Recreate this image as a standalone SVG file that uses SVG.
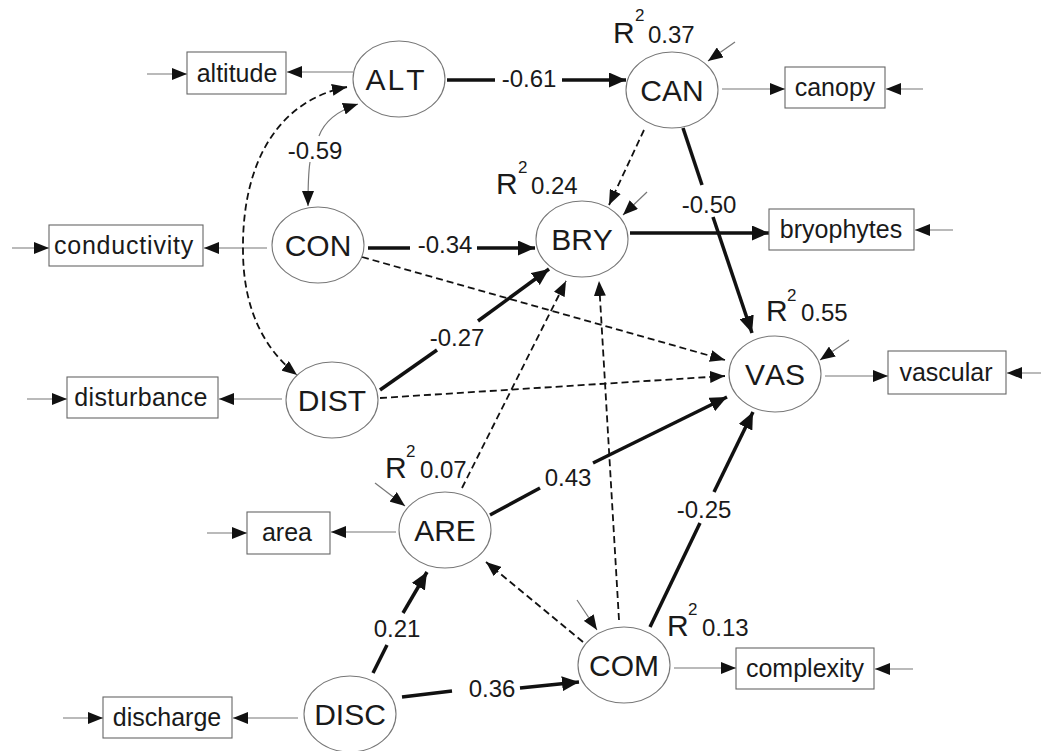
<svg xmlns="http://www.w3.org/2000/svg" width="1041" height="751" viewBox="0 0 1041 751">
<defs>
<style>
text{font-family:"Liberation Sans",Arial,sans-serif;fill:#1a1a1a;font-kerning:none}
.lat{fill:#fff;stroke:#777;stroke-width:1.1}
.obs{fill:#fff;stroke:#666;stroke-width:1.1}
.nl{font-size:30px;text-anchor:middle}
.bl{font-size:25px;text-anchor:middle}
.cl{font-size:24px;text-anchor:middle}
.rr{font-size:30px}
.sup{font-size:17px}
.rv{font-size:24px}
.thin{fill:none;stroke:#777;stroke-width:1.2;marker-end:url(#ah)}
.thick{fill:none;stroke:#111;stroke-width:3.5}
.thick.end{marker-end:url(#ahb)}
.dash{fill:none;stroke:#111;stroke-width:1.8;stroke-dasharray:7 4;marker-end:url(#ah)}
</style>
<marker id="ah" viewBox="0 0 15 12" refX="15" refY="6" markerWidth="15" markerHeight="12" markerUnits="userSpaceOnUse" orient="auto-start-reverse">
<path d="M0,0 L15,6 L0,12 z" fill="#111"/>
</marker>
<marker id="ahb" viewBox="0 0 17 15" refX="17" refY="7.5" markerWidth="17" markerHeight="15" markerUnits="userSpaceOnUse" orient="auto">
<path d="M0,0 L17,7.5 L0,15 z" fill="#111"/>
</marker>
</defs>
<rect width="1041" height="751" fill="#fff"/>

<g id="connectors">
<path class="thin" d="M147,74 H187"/>
<path class="thin" d="M353,72 H287"/>
<path class="thin" d="M12,248 H49"/>
<path class="thin" d="M267,248 H204"/>
<path class="thin" d="M27,399 H67"/>
<path class="thin" d="M282,399 H219"/>
<path class="thin" d="M207,533 H247"/>
<path class="thin" d="M396,532 H331"/>
<path class="thin" d="M63,718 H103"/>
<path class="thin" d="M298,718 H233"/>
<path class="thin" d="M722,89 H785"/>
<path class="thin" d="M923,89 H886"/>
<path class="thin" d="M953,230 H915"/>
<path class="thin" d="M825,376 H888"/>
<path class="thin" d="M1041,373 H1007"/>
<path class="thin" d="M674,668 H736"/>
<path class="thin" d="M913,669 H875"/>
<path class="thin" d="M735,42 L708,61"/>
<path class="thin" d="M647,192 L623,215"/>
<path class="thin" d="M849,340 L820,360"/>
<path class="thin" d="M375,483 L405,506"/>
<path class="thin" d="M577,600 L597,630"/>
<path class="thin" d="M319,136 C325,120 340,110 358,104"/>
<path class="thin" d="M310,162 C308,175 308,190 308,206"/>
<path class="thick" d="M447,80 H495"/><path class="thick end" d="M562,80 H626"/>
<path class="thick" d="M368,248 H410"/><path class="thick end" d="M477,248 H535"/>
<path class="thick" d="M380,390 L437,350"/><path class="thick end" d="M478,321 L549,269"/>
<path class="thick end" d="M630,233 H769"/>
<path class="thick" d="M683,128 L702,185"/><path class="thick end" d="M713,217 L752,333"/>
<path class="thick" d="M490,515 L540,488"/><path class="thick end" d="M593,463 L727,397"/>
<path class="thick" d="M650,627 L700,523"/><path class="thick end" d="M714,492 L753,412"/>
<path class="thick" d="M373,673 L387,645"/><path class="thick end" d="M403,613 L427,572"/>
<path class="thick" d="M402,697 L452,691"/><path class="thick end" d="M520,688 L579,682"/>
<path class="dash" style="marker-start:url(#ah)" d="M347,87 C280,100 242,160 243,250 C243,310 265,350 297,375"/>
<path class="dash" d="M362,257 L725,360"/>
<path class="dash" d="M380,398 L725,376"/>
<path class="dash" d="M644,130 L609,205"/>
<path class="dash" d="M462,488 L566,281"/>
<path class="dash" d="M619,620 L599,281"/>
<path class="dash" d="M583,642 L486,562"/>
<text class="cl" x="529" y="87">-0.61</text>
<text class="cl" x="315" y="159">-0.59</text>
<text class="cl" x="445" y="253">-0.34</text>
<text class="cl" x="457" y="346">-0.27</text>
<text class="cl" x="709" y="213">-0.50</text>
<text class="cl" x="568" y="486">0.43</text>
<text class="cl" x="704" y="518">-0.25</text>
<text class="cl" x="397" y="637">0.21</text>
<text class="cl" x="492" y="697">0.36</text>
</g>

<g id="ALT"><ellipse class="lat" cx="399" cy="79" rx="46" ry="38"/><text class="nl" x="396" y="90" letter-spacing="2">ALT</text></g>
<g id="CAN"><ellipse class="lat" cx="672" cy="90" rx="46" ry="38"/><text class="nl" x="672" y="101">CAN</text>
<text x="613" y="43"><tspan class="rr">R</tspan><tspan class="sup" x="635" y="21">2</tspan><tspan class="rv" x="648" y="43">0.37</tspan></text></g>
<g id="CON"><ellipse class="lat" cx="318" cy="245" rx="46" ry="38"/><text class="nl" x="318" y="256">CON</text></g>
<g id="BRY"><ellipse class="lat" cx="582" cy="239" rx="46" ry="38"/><text class="nl" x="582" y="250">BRY</text>
<text x="496" y="194"><tspan class="rr">R</tspan><tspan class="sup" x="518" y="173">2</tspan><tspan class="rv" x="531" y="194">0.24</tspan></text></g>
<g id="DIST"><ellipse class="lat" cx="332" cy="400" rx="46" ry="38"/><text class="nl" x="332" y="411">DIST</text></g>
<g id="VAS"><ellipse class="lat" cx="775" cy="374" rx="46" ry="38"/><text class="nl" x="775" y="385">VAS</text>
<text x="766" y="321"><tspan class="rr">R</tspan><tspan class="sup" x="787" y="301">2</tspan><tspan class="rv" x="801" y="321">0.55</tspan></text></g>
<g id="ARE"><ellipse class="lat" cx="445" cy="530" rx="46" ry="38"/><text class="nl" x="445" y="541">ARE</text>
<text x="385" y="478"><tspan class="rr">R</tspan><tspan class="sup" x="406" y="457">2</tspan><tspan class="rv" x="420" y="478">0.07</tspan></text></g>
<g id="COM"><ellipse class="lat" cx="624" cy="665" rx="46" ry="38"/><text class="nl" x="624" y="676">COM</text>
<text x="667" y="636"><tspan class="rr">R</tspan><tspan class="sup" x="688" y="615">2</tspan><tspan class="rv" x="702" y="636">0.13</tspan></text></g>
<g id="DISC"><ellipse class="lat" cx="350" cy="714" rx="46" ry="38"/><text class="nl" x="350" y="725">DISC</text></g>

<g id="altitude"><rect class="obs" x="187" y="52" width="99" height="42"/><text class="bl" x="237" y="82">altitude</text></g>
<g id="canopy"><rect class="obs" x="785" y="67" width="100" height="41"/><text class="bl" x="835" y="96">canopy</text></g>
<g id="conductivity"><rect class="obs" x="49" y="225" width="154" height="41"/><text class="bl" x="124" y="254" letter-spacing="0.8">conductivity</text></g>
<g id="bryophytes"><rect class="obs" x="769" y="209" width="145" height="41"/><text class="bl" x="841" y="238">bryophytes</text></g>
<g id="disturbance"><rect class="obs" x="67" y="377" width="151" height="41"/><text class="bl" x="141" y="406" letter-spacing="0.4">disturbance</text></g>
<g id="vascular"><rect class="obs" x="888" y="351" width="118" height="43"/><text class="bl" x="946" y="381">vascular</text></g>
<g id="area"><rect class="obs" x="247" y="512" width="83" height="42"/><text class="bl" x="287" y="541">area</text></g>
<g id="complexity"><rect class="obs" x="736" y="648" width="138" height="41"/><text class="bl" x="805" y="677">complexity</text></g>
<g id="discharge"><rect class="obs" x="103" y="697" width="129" height="41"/><text class="bl" x="167" y="726">discharge</text></g>
</svg>
